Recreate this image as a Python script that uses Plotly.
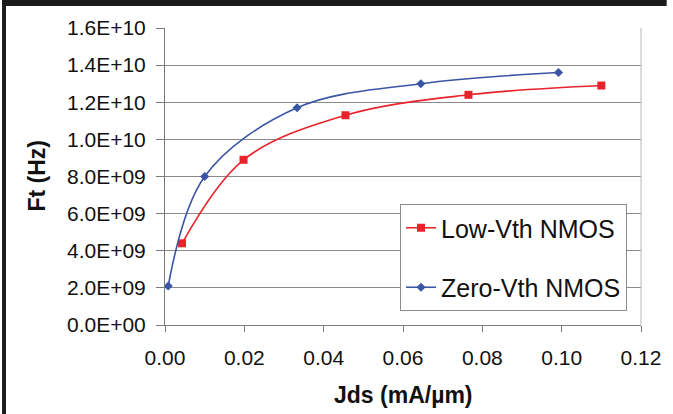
import plotly.graph_objects as go

# Data
low_vth_x = [0.0043, 0.0198, 0.0455, 0.0765, 0.110]
low_vth_y = [4.4e9, 8.9e9, 11.3e9, 12.4e9, 12.9e9]
zero_vth_x = [0.0008, 0.010, 0.0333, 0.0645, 0.0992]
zero_vth_y = [2.1e9, 8.0e9, 11.7e9, 13.0e9, 13.6e9]

y_tick_vals = [0, 2e9, 4e9, 6e9, 8e9, 10e9, 12e9, 14e9, 16e9]
y_tick_text = ["0.0E+00", "2.0E+09", "4.0E+09", "6.0E+09", "8.0E+09",
               "1.0E+10", "1.2E+10", "1.4E+10", "1.6E+10"]
x_tick_vals = [0.00, 0.02, 0.04, 0.06, 0.08, 0.10, 0.12]

W, H = 673, 414
L, R, T, B = 165, 26, 28, 89
pw, ph = W - L - R, H - T - B

def px(xp):
    return (xp - L) / pw

def py(yp):
    return (H - B - yp) / ph

FONT = "Liberation Sans, Arial, sans-serif"

fig = go.Figure()
fig.add_trace(go.Scatter(
    x=low_vth_x, y=low_vth_y, name="Low-Vth NMOS", legendgroup="a",
    mode="lines+markers", line=dict(color="#E8232B", width=1.6, shape="spline", smoothing=1),
    marker=dict(symbol="square", size=8, color="#E8232B"),
))
fig.add_trace(go.Scatter(
    x=zero_vth_x, y=zero_vth_y, name="Zero-Vth NMOS", legendgroup="b",
    mode="lines+markers", line=dict(color="#3A55A5", width=1.6, shape="spline", smoothing=1),
    marker=dict(symbol="diamond", size=7, color="#3A55A5"),
))

shapes = [
    # right border of the plot area
    dict(type="line", xref="paper", yref="paper", x0=1, x1=1, y0=0, y1=1,
         line=dict(color="#B8B8B8", width=1)),
    # dark frame at top and left of the picture
    dict(type="rect", xref="paper", yref="paper", x0=px(0), x1=px(W), y0=py(6), y1=py(0),
         fillcolor="#1C1C1C", line=dict(width=0), layer="above"),
    dict(type="rect", xref="paper", yref="paper", x0=px(0), x1=px(4), y0=py(H), y1=py(0),
         fillcolor="#1C1C1C", line=dict(width=0), layer="above"),
]

fig.update_layout(
    width=W, height=H,
    margin=dict(l=L, r=R, t=T, b=B),
    paper_bgcolor="white", plot_bgcolor="white",
    font=dict(family=FONT, color="#111111"),
    showlegend=True,
    legend=dict(
        x=px(403), y=py(204), xanchor="left", yanchor="top",
        bgcolor="white", bordercolor="#8C8C8C", borderwidth=1,
        font=dict(size=25, family=FONT, color="#111111"),
        tracegroupgap=24, itemwidth=30,
    ),
    xaxis=dict(
        range=[0, 0.12], tickvals=x_tick_vals, tickformat=".2f",
        showgrid=False, zeroline=False,
        showline=True, linecolor="#7A7A7A", linewidth=1,
        ticks="outside", ticklen=6, tickcolor="#7A7A7A",
        tickfont=dict(size=21, family=FONT, color="#111111"),
        ticklabelstandoff=8,
    ),
    yaxis=dict(
        range=[0, 1.6e10], tickvals=y_tick_vals, ticktext=y_tick_text,
        showgrid=True, gridcolor="#8A8A8A", gridwidth=1, zeroline=False,
        showline=True, linecolor="#7A7A7A", linewidth=1,
        ticks="outside", ticklen=8, tickcolor="#7A7A7A",
        tickfont=dict(size=21, family=FONT, color="#111111"),
        ticklabelstandoff=6,
    ),
    shapes=shapes,
    annotations=[
        dict(text="<b>Jds (mA/µm)</b>", xref="paper", yref="paper",
             x=px(406), y=py(395), xanchor="center", yanchor="middle", showarrow=False,
             font=dict(size=23, family=FONT, color="#111111")),
        dict(text="<b>Ft (Hz)</b>", xref="paper", yref="paper",
             x=px(35), y=py(176), xanchor="center", yanchor="middle", showarrow=False,
             textangle=-90, font=dict(size=23, family=FONT, color="#111111")),
    ],
)

fig.write_html(
    "out.html",
    config={"displayModeBar": False},
    post_script=(
        "document.documentElement.style.margin='0';"
        "document.documentElement.style.overflow='hidden';"
        "document.documentElement.style.background='white';"
        "document.body.style.margin='0';"
        "document.body.style.overflow='hidden';"
        "document.body.style.background='white';"
    ),
)
